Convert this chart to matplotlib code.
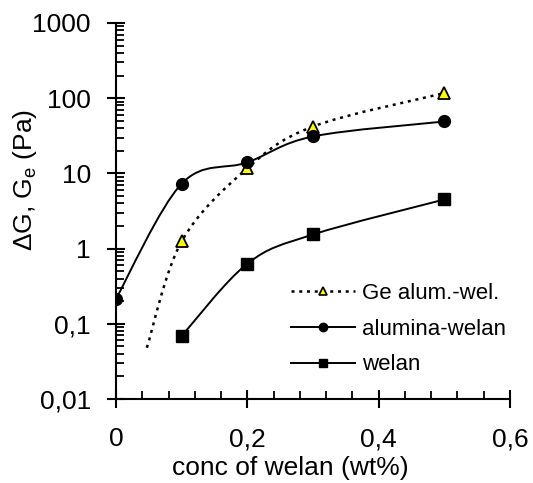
import numpy as np
import matplotlib
matplotlib.use('Agg')
import matplotlib.pyplot as plt
from matplotlib.path import Path
from matplotlib.patches import PathPatch
from matplotlib.lines import Line2D
from matplotlib.ticker import FixedLocator, MultipleLocator, FuncFormatter, LogLocator

plt.rcParams['font.family'] = ['Liberation Sans', 'DejaVu Sans']

# données
ge_x = [0.047, 0.1, 0.2, 0.3, 0.5]
ge_y = [0.048, 1.25, 11.7, 42, 117]
alu_x = [0.0, 0.1, 0.2, 0.3, 0.5]
alu_y = [0.215, 7.3, 14, 31, 49]
wel_x = [0.1, 0.2, 0.3, 0.5]
wel_y = [0.069, 0.63, 1.54, 4.5]

x_ticks = [0, 0.2, 0.4, 0.6]
y_ticks = [0.01, 0.1, 1, 10, 100, 1000]


# courbe lissée (type Excel) : Bézier en espace (x, log y)
def smooth_path(xs, ys):
    lx = np.array(xs, float)
    ly = np.log10(np.array(ys, float))
    n = len(lx)
    verts = [(lx[0], ly[0])]
    codes = [Path.MOVETO]
    for i in range(n - 1):
        a = i - 1 if i > 0 else i
        b = i + 2 if i + 2 < n else i + 1
        c1 = (lx[i] + (lx[i + 1] - lx[a]) / 6, ly[i] + (ly[i + 1] - ly[a]) / 6)
        c2 = (lx[i + 1] - (lx[b] - lx[i]) / 6, ly[i + 1] - (ly[b] - ly[i]) / 6)
        verts += [c1, c2, (lx[i + 1], ly[i + 1])]
        codes += [Path.CURVE4] * 3
    verts = [(x, 10 ** y) for x, y in verts]
    return Path(verts, codes)


fig = plt.figure(figsize=(5.33, 4.83), dpi=100)
ax = fig.add_axes([116 / 533, 1 - 399 / 483, (510 - 116) / 533, (399 - 23) / 483])
ax.set_yscale('log')
ax.set_xlim(0, 0.6)
ax.set_ylim(0.01, 1000)

dots = (0, (1.2, 1.9))
ax.add_patch(PathPatch(smooth_path(ge_x, ge_y), fill=False, lw=1.8, ls=dots, color='black'))
ax.add_patch(PathPatch(smooth_path(alu_x, alu_y), fill=False, lw=1.4, color='black'))
ax.add_patch(PathPatch(smooth_path(wel_x, wel_y), fill=False, lw=1.4, color='black'))

ax.plot(ge_x[1:], ge_y[1:], ls='none', marker='^', ms=8, mfc='#ffff00', mec='black', mew=1.3, zorder=3)
ax.plot(alu_x, alu_y, ls='none', marker='o', ms=8.5, color='black', zorder=3)
ax.plot(wel_x, wel_y, ls='none', marker='s', ms=8.5, color='black', zorder=3)

handles = [
    Line2D([], [], color='black', lw=1.8, ls=dots, marker='^', ms=6, mfc='#ffff00', mec='black', mew=1.2),
    Line2D([], [], color='black', lw=1.4, marker='o', ms=6),
    Line2D([], [], color='black', lw=1.4, marker='s', ms=6),
]
ax.legend(handles, ['Ge alum.-wel.', 'alumina-welan', 'welan'], loc='upper left',
          bbox_to_anchor=(291 / 533, 1 - 283 / 483), bbox_transform=fig.transFigure,
          frameon=False, fontsize=16, handlelength=2.9, handletextpad=0.3,
          labelspacing=0.66, borderpad=0, borderaxespad=0)

for s in ['top', 'right']:
    ax.spines[s].set_visible(False)
for s in ['left', 'bottom']:
    ax.spines[s].set_linewidth(1.5)

ax.xaxis.set_major_locator(FixedLocator(x_ticks))
ax.xaxis.set_minor_locator(MultipleLocator(0.04))
ax.xaxis.set_major_formatter(FuncFormatter(lambda v, p: ('%g' % v).replace('.', ',')))
ax.yaxis.set_major_locator(FixedLocator(y_ticks))
ax.yaxis.set_minor_locator(LogLocator(base=10, subs=np.arange(2, 10), numticks=20))
ax.yaxis.set_major_formatter(FuncFormatter(lambda v, p: ('%g' % v).replace('.', ',')))
ax.yaxis.set_minor_formatter(FuncFormatter(lambda v, p: ''))

ax.tick_params(which='major', direction='inout', length=13, width=1.5, labelsize=19)
ax.tick_params(axis='y', which='major', pad=11.5)
ax.tick_params(axis='x', which='major', pad=14)
ax.tick_params(which='minor', direction='in', length=5.5, width=1.3)

ax.set_xlabel('conc of welan (wt%)', fontsize=19)
ax.set_ylabel('ΔG, G$\\mathregular{_e}$ (Pa)', fontsize=19)
ax.xaxis.set_label_coords((290 - 116) / 394, -(456 - 399) / 376)
ax.yaxis.set_label_coords(-(116 - 39) / 394, (399 - 180) / 376)

fig.savefig('out.png', dpi=100)
